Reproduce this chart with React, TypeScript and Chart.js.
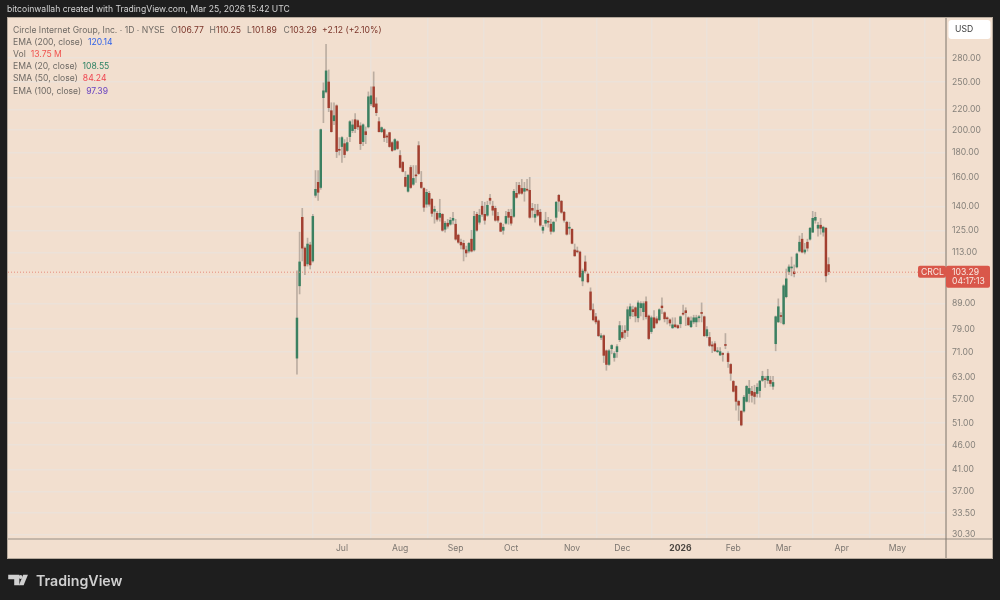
import React, { useRef, useEffect } from 'react';
import { Chart, registerables } from 'chart.js';

Chart.register(...registerables);

// CRCL daily candles, first bar is the Jun 5 2025 listing, last is Mar 25 2026
const opens = [
  69, 96.7, 133.1, 115.3, 107.1, 117, 108.6, 147.5, 156.7, 153,
  232.6, 239, 250.3, 218.9, 208.9, 224, 182.6, 185.2, 187.7, 181.8,
  194, 199.5, 209.9, 208.9, 204, 189.5, 198.5, 203, 226, 244.7,
  226, 208, 198.5, 200.4, 194, 197.6, 188.6, 182.6, 189.5, 177.6,
  172, 160.4, 150.3, 168, 155.3, 161.9, 186, 156.7, 152.3, 141.5,
  148.9, 144.8, 136.9, 135.6, 133.1, 135, 125.9, 129.5, 128.9, 131.3,
  128.9, 122.5, 118.5, 117.9, 114.3, 113.7, 120.2, 114.3, 135, 130.1,
  140.2, 135, 134.4, 145.5, 140.2, 138.8, 133.7, 129.5, 125.3, 129.5,
  136.3, 133.7, 133.7, 148.9, 154.5, 152.3, 150.3, 151.4, 151, 138.8,
  133.1, 137.6, 136.3, 125.3, 129.5, 130.7, 128.9, 124.7, 133.1, 147.5,
  143.5, 136.3, 130.1, 126.5, 125.9, 114.3, 113.7, 113.2, 98.9, 108.1,
  102.1, 94, 86.5, 83.7, 82.1, 76, 76.6, 71.4, 67, 72.1,
  69.2, 71.1, 75.2, 77.8, 78.5, 78.5, 84, 86.5, 87.3, 83.3,
  87.3, 85.7, 89.8, 84, 78.1, 83.3, 82.9, 82.5, 88, 85.3,
  83.3, 82.5, 79.5, 80.6, 80.3, 81, 85, 86.1, 83.3, 79.9,
  81.7, 81.7, 83.3, 85.3, 83.7, 76.6, 76, 73.4, 73.8, 71.1,
  70, 70.5, 73.5, 70.5, 67, 61.9, 60.5, 56.4, 53.9, 53.9,
  56.4, 58.5, 59.1, 58.8, 58.5, 59.3, 62.2, 62.6, 62.2, 62.2,
  60.5, 73.8, 81.7, 84.1, 81, 91.9, 103.2, 105.1, 103.2, 105.6,
  113.7, 120.2, 113.2, 118.5, 120.2, 124.2, 131.3, 126.5, 128.3, 124.2,
  126.5, 106.77,
];
const highs = [
  103.75, 124.2, 138.8, 116, 120.8, 118.5, 135, 165.6, 165.6, 201,
  249.3, 298.5, 264.8, 227.2, 227.2, 225, 193.1, 194, 191.3, 193.1,
  209, 209.9, 216, 209.9, 207, 206, 203, 239, 244.7, 262.4,
  232.6, 211.9, 203, 201.3, 195.8, 198, 189.5, 192.2, 190.4, 181.8,
  172.8, 164.9, 162.6, 169.5, 169.5, 169.5, 189.5, 164.9, 153, 151.7,
  150.3, 145.5, 140.2, 136.9, 144.8, 135.5, 130.7, 131.9, 133.1, 136.3,
  131.9, 123.1, 120.2, 119.6, 116.4, 118.5, 125.3, 136.9, 136.3, 138.2,
  143.5, 142.8, 143.5, 148.2, 143.5, 140.2, 136.3, 130.1, 128.9, 136.9,
  138.2, 138.2, 151.7, 156.7, 156.7, 158.9, 156.7, 158.9, 160.4, 142.1,
  141.5, 141.5, 138.2, 128.3, 136.3, 133.1, 131.9, 130.7, 143.5, 148.2,
  144.1, 136.9, 130.7, 130.1, 126.2, 117.5, 115.9, 113.7, 104.6, 111.2,
  102.6, 95.8, 88.9, 85, 82.5, 77.4, 76.9, 71.7, 71.8, 73.5,
  71.1, 73.5, 81.9, 80.3, 80.3, 87.7, 88.9, 88, 87.7, 90.2,
  89.8, 89.8, 91.9, 84.4, 84, 86.1, 83.7, 86.9, 91.4, 85.7,
  83.7, 82.9, 83.3, 83.3, 80.6, 84, 88.4, 87.3, 83.7, 83.7,
  84.3, 84.3, 84.3, 89.3, 84, 79.9, 77.8, 74.5, 74.5, 72.5,
  72.5, 70.8, 77.4, 71.1, 67.3, 62.2, 60.8, 56.7, 53.9, 58,
  60.8, 62.2, 60.5, 60.8, 61.3, 62.2, 64.9, 63.4, 65.5, 63.4,
  63.4, 84, 91, 85.3, 97.2, 104.6, 106.6, 110.6, 106.6, 112.7,
  122, 123.6, 117.9, 120.2, 127.1, 136.9, 136.3, 130.1, 132.5, 127.7,
  127.1, 110.25,
];
const lows = [
  64, 93.1, 108.6, 101.8, 106, 104.6, 108, 146.1, 144.1, 151.7,
  207, 237.9, 217.9, 198, 205, 175.9, 178, 172, 175.9, 180.9,
  189.5, 197.6, 197.6, 200.4, 182.6, 186, 187.7, 202, 224, 222,
  213.9, 198, 197.6, 189.5, 188.6, 184.5, 180.9, 181.8, 182.6, 167.5,
  164.5, 153.4, 149.6, 152.3, 154.5, 156.7, 162.6, 152.3, 136.9, 139.5,
  140.2, 133.7, 129.5, 130.7, 130.7, 124.7, 124.2, 126.5, 128.3, 128.9,
  119.6, 117.9, 114.8, 108.6, 110.7, 112.7, 113.2, 113.7, 124.7, 128.9,
  133.7, 128.9, 133.7, 141.5, 134.4, 130.7, 130.1, 124.4, 123, 128.9,
  128.9, 128.3, 133.1, 145.5, 148.2, 148.2, 143.5, 150.3, 132.5, 133.1,
  130.1, 133.7, 127.7, 123.6, 127.7, 127.1, 123, 124.2, 130.7, 136.9,
  135.6, 130.1, 122.5, 123, 117.6, 111, 112.7, 100.4, 96.7, 102.6,
  98, 86.1, 82.1, 80.9, 76.3, 75.2, 67.6, 65.2, 66.7, 70.4,
  68, 69.2, 74.5, 75.6, 75.6, 76.3, 82.9, 83.7, 81.7, 81.7,
  84, 82.5, 82.9, 75.2, 77.4, 79.2, 80.9, 82.1, 84.9, 81.7,
  80.9, 80.2, 79.2, 79.5, 79.2, 79.5, 84.3, 80.3, 80.4, 79.5,
  81, 79.9, 81.7, 81.7, 76.3, 76, 72.8, 70.8, 71.1, 70.8,
  69.9, 68, 72.1, 66.1, 62.2, 58.9, 54.1, 51.6, 50.3, 53.6,
  56.2, 56.2, 56.2, 55.7, 57.5, 57.5, 61.9, 60.2, 61.3, 60.5,
  59.6, 71.4, 81.5, 81.3, 80.6, 91.4, 101.8, 101.3, 100.8, 105.1,
  113.2, 112.7, 112.2, 113.7, 119.6, 124, 129.5, 121.9, 123, 121.9,
  98.5, 101.89,
];
const closes = [
  83.2, 108.1, 115.3, 106.1, 117.5, 106.6, 133.7, 151.7, 149.6, 200.4,
  240.2, 263.6, 222, 198.5, 213.9, 180.9, 182, 193.1, 178.4, 188.6,
  208, 204.9, 201.3, 203, 187.7, 205, 195.8, 233.6, 234.7, 223,
  216.9, 198.5, 202.3, 193.1, 193.6, 185.2, 181.8, 191.3, 183.5, 168,
  164.9, 153.8, 161.9, 153, 159.6, 161.5, 163.3, 153, 139.5, 149.6,
  141.5, 135.6, 138.2, 131.9, 135.6, 125.3, 129.5, 127.7, 131.3, 132.5,
  120.2, 118.5, 117, 114.8, 112.7, 117.9, 113.7, 133.7, 125.3, 134.4,
  135, 131.3, 140.8, 144.1, 137.6, 131.3, 131.3, 124.7, 127.1, 133.7,
  133.1, 129.5, 150.3, 146.1, 148.9, 148.9, 152.3, 151.1, 133.1, 137.6,
  135, 134.4, 128.3, 127.1, 131.3, 130.1, 124.7, 130.1, 142.8, 143.5,
  136.3, 131.3, 123, 127.1, 117.9, 111.2, 113.3, 100.8, 103.6, 103.6,
  98.5, 86.5, 82.5, 81.7, 76.6, 76.6, 69.9, 67, 71.4, 73.2,
  70.5, 72.8, 80.3, 76, 77.8, 86.5, 87.7, 85.7, 84, 89.3,
  89, 89, 83.7, 75.6, 83.3, 79.5, 81.3, 86.5, 87.3, 82.9,
  82.9, 81.3, 80.6, 79.9, 79.5, 83.7, 84.7, 85.3, 80.6, 82.1,
  83.3, 83.3, 83.7, 85, 76.6, 78.8, 73.2, 73, 71.4, 71.4,
  71.1, 70.2, 73.2, 67.9, 64.3, 59.1, 56.4, 55.4, 50.5, 57.5,
  60.5, 59.9, 58, 57.7, 60.2, 62, 63.4, 62.4, 63.4, 61.3,
  61.6, 83.7, 87.7, 83.8, 96.7, 99.9, 105.6, 105.6, 102.3, 112.2,
  118.5, 113.2, 114.3, 115.3, 126.5, 132.5, 133.1, 128.3, 126.5, 127.1,
  101.3, 103.29,
];

const monthBars = [17, 39, 60, 81, 104, 123, 145, 165, 184, 206, 227];
const monthLabels = ['Jul', 'Aug', 'Sep', 'Oct', 'Nov', 'Dec', '2026', 'Feb', 'Mar', 'Apr', 'May'];
// 101 has a grid line, its label sits under the price tag
const priceTicks = [280, 250, 220, 200, 180, 160, 140, 125, 113, 101, 89, 79, 71, 63, 57, 51, 46, 41, 37, 33.5, 30.3];
const lastPrice = 103.29;

const PANEL = '#f2dfcf';
const UP = '#3b8061';
const DOWN = '#a23f30';
const TAG = '#d9574a';
const GRID = '#ece2d9';
const FONT = 'Inter, "Liberation Sans", sans-serif';
const SIZE = 8.6;

const framePlugin = {
  id: 'tvFrame',
  beforeDraw(chart: any) {
    const { ctx, chartArea } = chart;
    ctx.save();
    ctx.fillStyle = '#1e1e1e';
    ctx.fillRect(0, 0, chart.width, chart.height);
    ctx.fillStyle = PANEL;
    ctx.fillRect(chartArea.left, chartArea.top, chartArea.width + 46, chartArea.height + 19);
    ctx.restore();
  },
  afterDraw(chart: any) {
    const { ctx, chartArea, scales } = chart;
    const right = chartArea.right + 46;
    const bottom = chartArea.bottom + 19;
    ctx.save();
    // frame and axis separators
    ctx.lineWidth = 1;
    ctx.strokeStyle = '#b5a99c';
    ctx.strokeRect(chartArea.left - 0.5, chartArea.top - 0.5, chartArea.width + 47, chartArea.height + 20);
    ctx.lineWidth = 1.5;
    ctx.beginPath();
    ctx.moveTo(chartArea.left, chartArea.bottom);
    ctx.lineTo(right, chartArea.bottom);
    ctx.stroke();
    ctx.lineWidth = 1;
    ctx.strokeStyle = '#7d746b';
    ctx.beginPath();
    ctx.moveTo(chartArea.right, chartArea.top);
    ctx.lineTo(chartArea.right, bottom);
    ctx.stroke();

    // last price line and tags
    const y = scales.y.getPixelForValue(lastPrice);
    ctx.strokeStyle = '#e58a7d';
    ctx.setLineDash([1, 2]);
    ctx.beginPath();
    ctx.moveTo(chartArea.left, y + 0.5);
    ctx.lineTo(chartArea.right - 28, y + 0.5);
    ctx.stroke();
    ctx.setLineDash([]);
    ctx.fillStyle = TAG;
    ctx.beginPath();
    ctx.roundRect(chartArea.right - 28, y - 6, 28, 12, 2);
    ctx.fill();
    ctx.beginPath();
    ctx.roundRect(chartArea.right, y - 6, 44, 22, 2);
    ctx.fill();
    ctx.fillStyle = '#f8e9e2';
    ctx.font = `${SIZE}px ${FONT}`;
    ctx.textBaseline = 'middle';
    ctx.fillText('CRCL', chartArea.right - 25, y + 0.5);
    ctx.fillText(lastPrice.toFixed(2), chartArea.right + 6, y + 0.5);
    ctx.fillText('04:17:13', chartArea.right + 6, y + 10);

    // currency box
    ctx.fillStyle = '#ffffff';
    ctx.beginPath();
    ctx.roundRect(chartArea.right + 2.5, chartArea.top + 2, 42, 19, 3);
    ctx.fill();
    ctx.fillStyle = '#3a3a3a';
    ctx.font = `${SIZE}px ${FONT}`;
    ctx.fillText('USD', chartArea.right + 9, chartArea.top + 11.5);
    ctx.restore();
  },
};

const legendRows: [string, string, string][] = [
  ['EMA (200, close)', '120.14', '#2f62e8'],
  ['Vol', '13.75 M', '#ef5350'],
  ['EMA (20, close)', '108.55', '#2e8365'],
  ['SMA (50, close)', '84.24', '#ef4450'],
  ['EMA (100, close)', '97.39', '#6a45c0'],
];
const ohlc: [string, string][] = [
  ['O', '106.77'],
  ['H', '110.25'],
  ['L', '101.89'],
  ['C', '103.29'],
];

const App: React.FC = () => {
  const chartRef = useRef<HTMLCanvasElement>(null);
  const chartInstance = useRef<Chart | null>(null);

  useEffect(() => {
    if (!chartRef.current) return;
    const ctx = chartRef.current.getContext('2d');
    if (!ctx) return;

    chartInstance.current = new Chart(ctx, {
      type: 'bar',
      data: {
        datasets: [
          {
            label: 'Body',
            data: opens.map((o, i) => ({ x: i, y: [o, closes[i]] })) as any,
            backgroundColor: opens.map((o, i) => (closes[i] >= o ? UP : DOWN)),
            barThickness: 1.8,
            minBarLength: 1,
            borderSkipped: false,
            grouped: false,
            order: 1,
          },
          {
            label: 'Wick',
            data: lows.map((l, i) => ({ x: i, y: [l, highs[i]] })) as any,
            backgroundColor: 'rgba(112, 105, 98, 0.42)',
            barThickness: 1,
            borderSkipped: false,
            grouped: false,
            order: 2,
          },
        ],
      },
      plugins: [framePlugin],
      options: {
        animation: false,
        responsive: false,
        maintainAspectRatio: false,
        layout: { padding: { left: 8, right: 8, top: 18, bottom: 42 } },
        plugins: { legend: { display: false }, tooltip: { enabled: false } },
        scales: {
          x: {
            type: 'linear',
            offset: false,
            min: -109.26,
            max: 245.4,
            afterFit: (scale: any) => {
              scale.height = 19;
            },
            afterBuildTicks: (scale: any) => {
              scale.ticks = monthBars.map((value) => ({ value }));
            },
            grid: { color: GRID, lineWidth: 1.5, drawTicks: false },
            border: { display: false },
            ticks: {
              autoSkip: false,
              maxRotation: 0,
              padding: 4,
              color: (c: any) => (c.tick?.value === 145 ? '#4a4540' : '#7c7670'),
              font: (c: any) => ({ family: FONT, size: SIZE, weight: c.tick?.value === 145 ? 'bold' : 'normal' }),
              callback: (value: any) => monthLabels[monthBars.indexOf(Number(value))] ?? '',
            },
          },
          y: {
            type: 'logarithmic',
            position: 'right',
            min: 29.67,
            max: 337.4,
            afterFit: (scale: any) => {
              scale.width = 46;
            },
            afterBuildTicks: (scale: any) => {
              scale.ticks = priceTicks.map((value) => ({ value }));
            },
            grid: { color: GRID, lineWidth: 1.5, drawTicks: false },
            border: { display: false },
            ticks: {
              autoSkip: false,
              padding: 6,
              color: '#85807a',
              font: { family: FONT, size: SIZE },
              callback: (value: any) => (Number(value) === 101 ? '' : Number(value).toFixed(2)),
            },
          },
        },
      },
    });

    return () => {
      if (chartInstance.current) {
        chartInstance.current.destroy();
        chartInstance.current = null;
      }
    };
  }, []);

  const textBase: React.CSSProperties = {
    position: 'absolute',
    whiteSpace: 'nowrap',
    fontFamily: FONT,
    fontSize: SIZE,
    lineHeight: '12px',
  };

  return (
    <div style={{ position: 'fixed', inset: 0, overflow: 'hidden', background: '#1e1e1e' }}>
      <canvas ref={chartRef} width={1000} height={600} style={{ display: 'block' }} />
      <div style={{ ...textBase, left: 7, top: 3, color: '#d4d4d4' }}>
        bitcoinwallah created with TradingView.com, Mar 25, 2026 15:42 UTC
      </div>
      <div style={{ ...textBase, left: 13, top: 23.5, color: '#6f6a65' }}>Circle Internet Group, Inc. · 1D · NYSE</div>
      {ohlc.map(([k, v], i) => (
        <div key={k} style={{ ...textBase, left: [171, 209.5, 247, 283.5][i], top: 23.5, color: '#7a3328' }}>
          <span style={{ color: '#6f6a65' }}>{k}</span>
          {v}
        </div>
      ))}
      <div style={{ ...textBase, left: 322, top: 23.5, color: '#7a3328' }}>+2.12 (+2.10%)</div>
      {legendRows.map(([name, value, color], i) => (
        <div key={name} style={{ ...textBase, left: 13, top: 35.5 + i * 12.3, color: '#6f6a65' }}>
          {name}
          <span style={{ color, marginLeft: 5 }}>{value}</span>
        </div>
      ))}
      <svg width="21" height="12" viewBox="0 0 24 14" style={{ position: 'absolute', left: 8, top: 574 }}>
        <path d="M0 1h13v12H7V6H0z" fill="#d0d0d0" />
        <circle cx="14.5" cy="3.5" r="2.2" fill="#d0d0d0" />
        <path d="M17.5 1H23l-5 12h-5.5z" fill="#d0d0d0" />
      </svg>
      <div
        style={{
          ...textBase,
          left: 36,
          top: 571,
          color: '#d0d0d0',
          fontSize: 14.2,
          lineHeight: '20px',
          fontWeight: 600,
        }}
      >
        TradingView
      </div>
    </div>
  );
};

export default App;
